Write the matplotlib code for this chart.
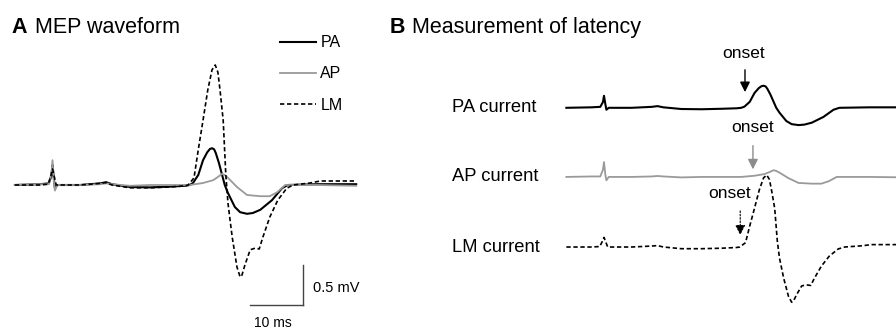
import matplotlib.pyplot as plt

plt.rcParams["font.family"] = ["Liberation Sans", "DejaVu Sans"]

# MEP traces, time in ms from the stimulus artifact, amplitude in mV
t_pa = [-7.1, -2.4, -0.7, -0.2, 0.0, 0.25, 0.45, 0.9, 5.2, 9.0, 10.1, 11.2, 14.6, 18.4, 22.2, 25.0,
        25.9, 26.5, 27.5, 28.4, 29.2, 29.7, 30.1, 30.5, 30.8, 31.4, 32.0, 32.5, 33.1, 34.4, 35.4, 36.7, 37.8,
        39.2, 41.4, 43.3, 44.4, 50.0, 57.3]
v_pa = [0.0, 0.01, 0.02, 0.12, 0.25, 0.08, -0.04, 0.0, 0.0, 0.02, 0.035, 0.01, -0.025, -0.03, -0.02, -0.01,
        0.0, 0.025, 0.125, 0.31, 0.41, 0.45, 0.46, 0.445, 0.40, 0.275, 0.125, 0.0, -0.10, -0.275, -0.34, -0.36, -0.35,
        -0.31, -0.19, -0.04, 0.0, 0.01, 0.01]

t_ap = [-7.1, -2.4, -0.7, -0.2, 0.0, 0.25, 0.45, 0.9, 5.2, 9.0, 10.1, 11.2, 14.6, 18.4, 22.2, 25.0,
        25.9, 28.4, 30.3, 31.2, 32.0, 32.5, 33.1, 34.8, 36.7, 39.2, 41.0, 42.4, 43.9, 50.0, 57.3]
v_ap = [0.0, 0.01, 0.01, 0.15, 0.31, 0.05, -0.07, 0.0, 0.0, 0.01, 0.02, 0.01, -0.01, 0.0, 0.0, 0.0,
        0.0, 0.025, 0.06, 0.10, 0.14, 0.125, 0.09, -0.025, -0.125, -0.14, -0.14, -0.09, 0.0, 0.0, -0.01]

t_lm = [-7.1, -2.4, -0.8, -0.3, 0.0, 0.35, 0.7, 1.2, 5.2, 9.0, 10.1, 11.2, 14.6, 18.4, 22.2, 25.0,
        25.6, 26.7, 27.5, 28.4, 29.3, 30.1, 30.7, 31.2, 31.6, 32.2, 32.7, 33.1, 33.9, 34.8, 35.4,
        35.75, 36.3, 37.3, 38.2, 39.0, 39.7, 41.0, 42.5, 44.2, 45.4, 48.6, 50.5, 57.3]
v_lm = [0.0, 0.0, 0.01, 0.12, 0.2, 0.1, 0.0, 0.0, 0.0, 0.02, 0.03, 0.0, -0.035, -0.035, -0.025, -0.01,
        0.0, 0.09, 0.44, 0.81, 1.19, 1.44, 1.50, 1.41, 1.19, 0.81, 0.125, -0.225, -0.65, -1.025, -1.15,
        -1.125, -1.0, -0.81, -0.79, -0.80, -0.65, -0.40, -0.19, -0.04, 0.0, 0.025, 0.05, 0.05]

# onset times (ms) marked in panel B
onset_pa = 26.6
onset_ap = 28.1
onset_lm = 25.7

# vertical offsets of the stacked traces in panel B (mV)
offset_pa = 2.9
offset_ap = 1.46
offset_lm = 0.0

fig = plt.figure(figsize=(8.96, 3.29), dpi=100)
ax_a = fig.add_axes([0, 0, 380 / 896, 1])
ax_b = fig.add_axes([380 / 896, 0, 516 / 896, 1])

pa_style = dict(color="black", lw=1.5)
ap_style = dict(color="#9a9a9a", lw=1.3)
lm_style = dict(color="black", lw=1.2, linestyle=(0, (2.6, 1.6)))

# --- A: overlaid waveforms
l_pa, = ax_a.plot(t_pa, v_pa, label="PA", **pa_style)
l_ap, = ax_a.plot(t_ap, v_ap, label="AP", **ap_style)
l_lm, = ax_a.plot(t_lm, v_lm, label="LM", **lm_style)
ax_a.set_xlim(-9.91, 61.79)
ax_a.set_ylim(-1.8, 2.3125)
ax_a.axis("off")

ax_a.text(0.03, 0.9, "A", transform=ax_a.transAxes, fontsize=15.5, fontweight="bold", va="baseline")
ax_a.text(0.093, 0.9, "MEP waveform", transform=ax_a.transAxes, fontsize=15.5, va="baseline")

ax_a.legend(handles=[l_pa, l_ap, l_lm], loc="upper left", bbox_to_anchor=(0.738, 0.893),
            frameon=False, fontsize=11.5, handlelength=2.2, handletextpad=0.3,
            labelspacing=1.02, borderpad=0, borderaxespad=0)

# scale bar: 0.5 mV, 10 ms
ax_a.plot([47.3, 47.3], [-1.0, -1.5], color="#444444", lw=1.0)
ax_a.plot([37.3, 47.3], [-1.5, -1.5], color="#444444", lw=1.0)
ax_a.text(49.2, -1.29, "0.5 mV", fontsize=10.5, va="center", ha="left")
ax_a.text(41.6, -1.73, "10 ms", fontsize=10, va="center", ha="center")

# --- B: stacked traces with onset markers
ax_b.plot(t_pa, [v + offset_pa for v in v_pa], **pa_style)
ax_b.plot(t_ap, [v + offset_ap for v in v_ap], **ap_style)
ax_b.plot(t_lm, [v + offset_lm for v in v_lm], **lm_style)
ax_b.set_xlim(-42.26, 55.09)
ax_b.set_ylim(-1.708, 5.146)
ax_b.axis("off")

ax_b.text(0.019, 0.9, "B", transform=ax_b.transAxes, fontsize=15.5, fontweight="bold", va="baseline")
ax_b.text(0.062, 0.9, "Measurement of latency", transform=ax_b.transAxes, fontsize=15.5, va="baseline")

for name, off in [("PA current", offset_pa), ("AP current", offset_ap), ("LM current", offset_lm)]:
    ax_b.text(-28.7, off, name, fontsize=13.2, va="center", ha="left")

ax_b.annotate("", xy=(onset_pa, offset_pa + 0.27), xytext=(onset_pa, offset_pa + 0.85),
              arrowprops=dict(arrowstyle="-|>", color="black", lw=1.0, mutation_scale=15))
ax_b.text(onset_pa - 0.2, offset_pa + 1.14, "onset", fontsize=12.5, ha="center", va="center")

ax_b.annotate("", xy=(onset_ap, offset_ap + 0.1), xytext=(onset_ap, offset_ap + 0.71),
              arrowprops=dict(arrowstyle="-|>", color="#8c8c8c", lw=1.0, mutation_scale=15))
ax_b.text(onset_ap, offset_ap + 1.02, "onset", fontsize=12.5, ha="center", va="center")

ax_b.annotate("", xy=(onset_lm, offset_lm + 0.19), xytext=(onset_lm, offset_lm + 0.81),
              arrowprops=dict(arrowstyle="-|>", color="black", lw=0.8, linestyle=(0, (1.5, 1.5)),
                              mutation_scale=15))
ax_b.text(onset_lm - 2.1, offset_lm + 1.125, "onset", fontsize=12.5, ha="center", va="center")

fig.savefig("out.png", dpi=100)
